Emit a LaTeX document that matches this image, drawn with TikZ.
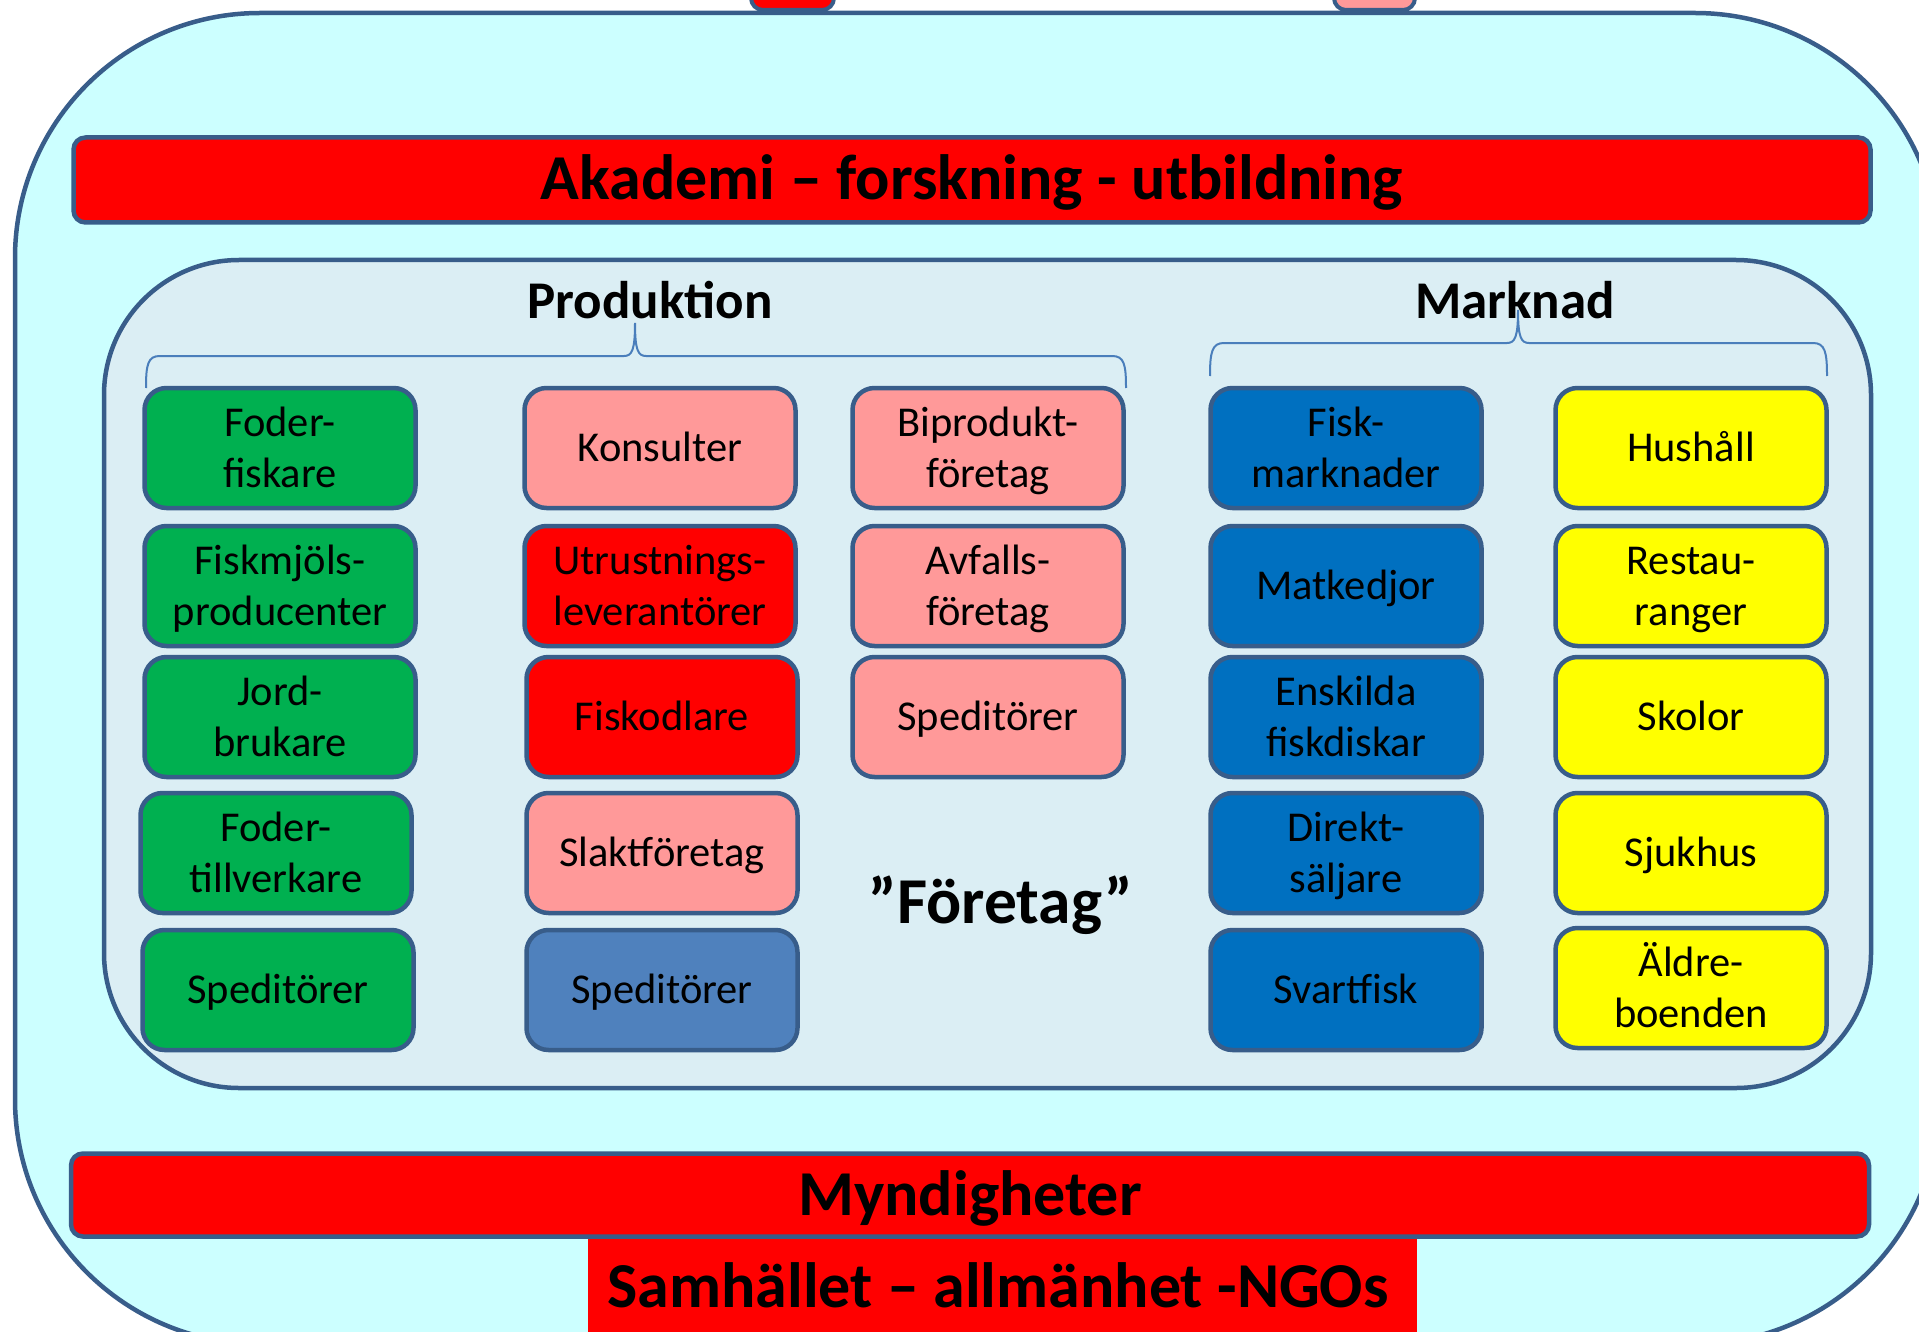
\documentclass[tikz,border=0pt]{standalone}
\usepackage{fontspec}
\setmainfont{Carlito}
\definecolor{bord}{HTML}{385D8A}
\definecolor{outerfill}{HTML}{CCFFFF}
\definecolor{innerfill}{HTML}{DBEEF4}
\definecolor{grn}{HTML}{00B050}
\definecolor{pnk}{HTML}{FF9999}
\definecolor{rd}{HTML}{FF0000}
\definecolor{lblue}{HTML}{4F81BD}
\definecolor{dblue}{HTML}{0070C0}
\definecolor{yel}{HTML}{FFFF00}
\definecolor{bracecol}{HTML}{4A7EBB}
\newcommand\bxl[1]{\rule{0pt}{27pt}\smash{#1}}
\begin{document}
\begin{tikzpicture}[x=1pt,y=-1pt,
  box/.style={draw=bord, line width=4.5pt, rounded corners=22pt,
    minimum width=271pt, minimum height=120pt, inner sep=0pt, align=center,
    font=\fontsize{42.5}{51}\selectfont},
  bar/.style={draw=bord, line width=4.5pt, fill=rd, rounded corners=12pt, inner sep=0pt,
    text height=40pt, text depth=0pt, font=\fontsize{64}{70}\selectfont\bfseries},
  title/.style={inner sep=0pt, anchor=base, font=\fontsize{64}{70}\selectfont\bfseries},
  sectitle/.style={inner sep=0pt, anchor=base, font=\fontsize{53}{60}\selectfont\bfseries},
  bracestyle/.style={draw=bracecol, line width=2pt}]
\useasboundingbox (0,0) rectangle (1919,1332);
\clip (0,0) rectangle (1919,1332);
% cut-off boxes at the top
\draw[fill=rd, draw=bord, line width=4pt, rounded corners=12pt] (751,-80) rectangle (834,10);
\draw[fill=pnk, draw=bord, line width=4pt, rounded corners=12pt] (1334,-80) rectangle (1415,10);
% outer frame
\draw[draw=bord, line width=4.5pt, fill=outerfill, rounded corners=245pt] (15,13) rectangle (1940,1344);
% bars
\node[bar, minimum width=1797pt, minimum height=85pt] (akad) at (972,180) {Akademi – forskning - utbildning};
\node[bar, minimum width=1798pt, minimum height=83pt] (mynd) at (970,1195) {Myndigheter};
\fill[rd] (588,1239) rectangle (1417,1345);
\node[title] (samh) at (998,1307) {Samhället – allmänhet -NGOs};
% inner frame
\draw[draw=bord, line width=4.5pt, fill=innerfill, rounded corners=135pt] (104,260) rectangle (1871,1088);
\node[sectitle] (prod) at (650,318) {Produktion};
\node[sectitle] (mark) at (1515,318) {Marknad};
\node[title, font=\fontsize{65.5}{70}\selectfont\bfseries] (fore) at (1001,923) {”Företag”};
% braces
\draw[bracestyle] (146,388) .. controls (146,364) and (148,356) .. (160,356) -- (624,356)
  .. controls (632,356) and (635,350) .. (635,323) .. controls (635,350) and (638,356) .. (646,356)
  -- (1112,356) .. controls (1124,356) and (1126,364) .. (1126,388);
\draw[bracestyle] (1210,376) .. controls (1210,352) and (1212,343) .. (1224,343) -- (1507,343)
  .. controls (1515,343) and (1518,337) .. (1518,310) .. controls (1518,337) and (1521,343) .. (1529,343)
  -- (1813,343) .. controls (1825,343) and (1827,352) .. (1827,376);
% column 1
\node[box, fill=grn] (c1a) at (280,448) {\bxl{Foder-}\\\bxl{fiskare}};
\node[box, fill=grn] (c1b) at (280,586) {\bxl{Fiskmjöls-}\\\bxl{producenter}};
\node[box, fill=grn] (c1c) at (280,717) {\bxl{Jord-}\\\bxl{brukare}};
\node[box, fill=grn] (c1d) at (276,853) {\bxl{Foder-}\\\bxl{tillverkare}};
\node[box, fill=grn] (c1e) at (278,990) {\bxl{Speditörer}};
% column 2
\node[box, fill=pnk] (c2a) at (660,448) {\bxl{Konsulter}};
\node[box, fill=rd] (c2b) at (660,586) {\bxl{Utrustnings-}\\\bxl{leverantörer}};
\node[box, fill=rd] (c2c) at (662,717) {\bxl{Fiskodlare}};
\node[box, fill=pnk] (c2d) at (662,853) {\bxl{Slaktföretag}};
\node[box, fill=lblue] (c2e) at (662,990) {\bxl{Speditörer}};
% column 3
\node[box, fill=pnk] (c3a) at (988,448) {\bxl{Biprodukt-}\\\bxl{företag}};
\node[box, fill=pnk] (c3b) at (988,586) {\bxl{Avfalls-}\\\bxl{företag}};
\node[box, fill=pnk] (c3c) at (988,717) {\bxl{Speditörer}};
% column 4
\node[box, fill=dblue] (c4a) at (1346,448) {\bxl{Fisk-}\\\bxl{marknader}};
\node[box, fill=dblue] (c4b) at (1346,586) {\bxl{Matkedjor}};
\node[box, fill=dblue] (c4c) at (1346,717) {\bxl{Enskilda}\\\bxl{fiskdiskar}};
\node[box, fill=dblue] (c4d) at (1346,853) {\bxl{Direkt-}\\\bxl{säljare}};
\node[box, fill=dblue] (c4e) at (1346,990) {\bxl{Svartfisk}};
% column 5
\node[box, fill=yel] (c5a) at (1691,448) {\bxl{Hushåll}};
\node[box, fill=yel] (c5b) at (1691,586) {\bxl{Restau-}\\\bxl{ranger}};
\node[box, fill=yel] (c5c) at (1691,717) {\bxl{Skolor}};
\node[box, fill=yel] (c5d) at (1691,853) {\bxl{Sjukhus}};
\node[box, fill=yel] (c5e) at (1691,988) {\bxl{Äldre-}\\\bxl{boenden}};
\end{tikzpicture}
\end{document}
